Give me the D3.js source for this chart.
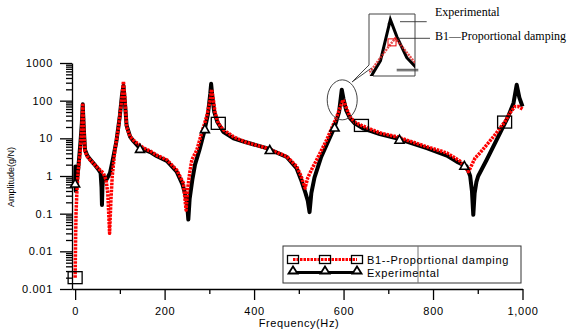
<!DOCTYPE html>
<html>
<head>
<meta charset="utf-8">
<script src="https://cdn.jsdelivr.net/npm/d3@7"></script>
<style>
  body { margin: 0; background: #fff; }
  svg { display: block; }
  text { font-family: "Liberation Sans", Arial, sans-serif; }
</style>
</head>
<body>
<svg id="chart" width="576" height="332"></svg>
<script>
// frequency (Hz), amplitude (g/N)
const experimental = [
  [0, 0.65], [0.6, 1.8], [1.3, 0.4], [3, 0.6], [6, 1.2], [9, 3], [12, 8], [15, 25], [17, 80],
  [19, 22], [22, 5], [27, 3.5], [33, 2.8], [42, 2.1], [52, 1.5], [57, 1.2], [59, 0.5], [60, 0.17],
  [61, 0.5], [63, 1.0], [70, 0.8], [78, 1.2], [85, 3], [92, 8], [100, 40], [105, 150], [108, 250],
  [111, 100], [115, 22], [123, 11], [130, 8.5], [145, 5.4], [153, 5.1], [168, 4.3], [182, 3.4],
  [205, 2.5], [227, 1.3], [240, 0.6], [247, 0.3], [250, 0.2], [253, 0.07], [256, 0.25], [262, 0.8],
  [268, 2.0], [278, 5], [288, 14], [297, 45], [302, 150], [304, 280], [307, 120], [311, 50],
  [318, 27], [331, 15], [354, 10], [380, 8], [428, 5.5], [473, 3.2], [495, 1.6], [505, 0.8],
  [515, 0.35], [520, 0.22], [524, 0.11], [528, 0.35], [535, 0.9], [550, 3.2], [565, 8], [580, 20],
  [590, 50], [596, 195], [600, 110], [606, 55], [614, 35], [625, 25], [645, 18], [681, 13],
  [719, 10], [786, 5.5], [831, 3.5], [853, 2.4], [875, 1.8], [883, 1.0], [887, 0.4], [890, 0.093],
  [893, 0.35], [897, 0.7], [901, 1.0], [920, 2.7], [950, 14], [968, 38], [980, 87], [987, 265],
  [993, 120], [1000, 70]
];

const proportional = [
  [0, 0.002], [1, 0.02], [2, 0.1], [4, 0.4], [7, 1.4], [11, 4], [15, 20], [17, 85], [20, 14],
  [22, 4.5], [27, 3.3], [33, 2.7], [42, 2.1], [52, 1.6], [63, 1.19], [69, 0.8], [73, 0.35],
  [77, 0.03], [80, 0.23], [83, 1.0], [89, 4.9], [97, 20], [104, 105], [108, 324], [112, 87],
  [115, 20], [123, 11], [130, 9], [153, 5.5], [168, 4.6], [182, 3.6], [205, 2.7], [227, 1.45],
  [242, 0.65], [248, 0.125], [252, 0.5], [256, 1.2], [261, 2.7], [272, 4.9], [283, 14], [294, 38],
  [302, 105], [305, 200], [309, 105], [313, 47], [320, 25], [331, 17], [354, 11], [380, 8],
  [428, 5.5], [473, 3.3], [495, 1.8], [505, 1.0], [514, 0.48], [520, 0.9], [530, 1.6], [540, 2.7],
  [562, 9], [585, 38], [595, 80], [599, 105], [605, 70], [614, 38], [625, 27], [640, 22],
  [681, 14], [719, 11], [786, 6], [831, 4.1], [860, 2.5], [879, 1.3], [883, 1.6], [894, 3.0],
  [905, 4.1], [935, 11], [961, 28], [972, 47], [983, 70], [991, 70], [1000, 60]
];

const squareFreqs = [0, 320, 640, 960];
const triangleFreqs = [0, 145, 290, 435, 580, 725, 870];

const xTicks = [0, 200, 400, 600, 800, 1000];
const xMinorTicks = [100, 300, 500, 700, 900];
const yTicks = [0.001, 0.01, 0.1, 1, 10, 100, 1000];
const yTickLabels = ["0.001", "0.01", "0.1", "1", "10", "100", "1000"];

const legendLabels = ["B1--Proportional damping", "Experimental"];
const insetLabels = ["Experimental", "B1\u2014Proportional damping"];

const svg = d3.select("#chart");

const x = d3.scaleLinear().domain([-7, 1000]).range([72, 522.5]);
const y = d3.scaleLog().domain([0.001, 1000]).range([289, 63]);

// log-space interpolation so markers sit on their curve
function ampAt(series, f) {
  for (let i = 0; i < series.length - 1; i++) {
    const a = series[i], b = series[i + 1];
    if (f >= a[0] && f <= b[0]) {
      const t = (f - a[0]) / (b[0] - a[0]);
      return Math.pow(10, Math.log10(a[1]) + t * (Math.log10(b[1]) - Math.log10(a[1])));
    }
  }
  return series[series.length - 1][1];
}

function triPath(w, h) {
  return `M0,${-h / 2}L${w / 2},${h / 2}L${-w / 2},${h / 2}Z`;
}

// axes
const xAxis = svg.append("g").attr("transform", "translate(0,289)")
  .call(d3.axisBottom(x).tickValues(xTicks).tickSize(11).tickSizeOuter(0).tickPadding(7));
svg.append("g").attr("transform", "translate(0,289)")
  .call(d3.axisBottom(x).tickValues(xMinorTicks).tickSize(5).tickSizeOuter(0).tickFormat(""))
  .select(".domain").remove();

const minorY = [];
yTicks.slice(0, -1).forEach(d => { for (let k = 2; k <= 9; k++) minorY.push(d * k); });

const yAxis = svg.append("g").attr("transform", "translate(72,0)")
  .call(d3.axisLeft(y).tickValues(yTicks).tickSize(12).tickSizeOuter(0).tickPadding(7)
    .tickFormat((d, i) => yTickLabels[i]));
svg.append("g").attr("transform", "translate(72,0)")
  .call(d3.axisLeft(y).tickValues(minorY).tickSize(6).tickSizeOuter(0).tickFormat(""))
  .select(".domain").remove();

svg.selectAll(".domain, .tick line").attr("stroke", "#000").attr("stroke-width", 1.3);
svg.selectAll(".tick text").attr("font-size", 11).attr("letter-spacing", 0.7)
  .attr("fill", "#000").style("font-family", "'Liberation Sans', Arial, sans-serif");

svg.append("text").attr("x", 299).attr("y", 327).attr("text-anchor", "middle")
  .attr("font-size", 11).attr("letter-spacing", 0.6).text("Frequency(Hz)");
svg.append("text").attr("transform", "translate(14,177) rotate(-90)")
  .attr("text-anchor", "middle").attr("font-size", 9).text("Amplitude(g/N)");

// curves
const line = d3.line().x(d => x(d[0])).y(d => y(d[1]));

svg.append("path").datum(experimental).attr("d", line)
  .attr("fill", "none").attr("stroke", "#000").attr("stroke-width", 4)
  .attr("stroke-linejoin", "round");
svg.append("path").datum(proportional).attr("d", line)
  .attr("fill", "none").attr("stroke", "#ff0000").attr("stroke-width", 3.5)
  .attr("stroke-dasharray", "2.5,1").attr("stroke-linejoin", "round");

svg.append("g").selectAll("path").data(triangleFreqs).join("path")
  .attr("transform", f => `translate(${x(f)},${y(ampAt(experimental, f))})`)
  .attr("d", triPath(9, 8)).attr("fill", "#fff").attr("stroke", "#000").attr("stroke-width", 1.6);

svg.append("g").selectAll("rect").data(squareFreqs).join("rect")
  .attr("x", f => x(f) - 7).attr("y", f => y(ampAt(proportional, f)) - 6)
  .attr("width", 14).attr("height", 12)
  .attr("fill", "none").attr("stroke", "#000").attr("stroke-width", 1.3);

// highlight ellipse and callout
svg.append("ellipse").attr("cx", x(597)).attr("cy", y(105)).attr("rx", 15).attr("ry", 20)
  .attr("fill", "none").attr("stroke", "#444").attr("stroke-width", 1);

svg.append("path")
  .attr("d", "M369,65L369,14L415,14L415,76L373,76L371.5,68L352,82Z")
  .attr("fill", "none").attr("stroke", "#444").attr("stroke-width", 1);

// inset: zoomed view of the peak near 600 Hz
const xi = d3.scaleLinear().domain([583, 611]).range([369, 415]);
const yi = d3.scaleLog().domain([30, 220]).range([76, 16]);
const lineInset = d3.line().x(d => xi(d[0])).y(d => yi(d[1]));

svg.append("clipPath").attr("id", "insetClip")
  .append("rect").attr("x", 369).attr("y", 14).attr("width", 46).attr("height", 62);
const inset = svg.append("g").attr("clip-path", "url(#insetClip)");
inset.append("path").datum(experimental).attr("d", lineInset)
  .attr("fill", "none").attr("stroke", "#000").attr("stroke-width", 3);
inset.append("path").datum(proportional).attr("d", lineInset)
  .attr("fill", "none").attr("stroke", "#e02020").attr("stroke-width", 2.5)
  .attr("stroke-dasharray", "2,1").attr("opacity", 0.8);
inset.append("path").attr("transform", `translate(${xi(596)},${yi(195) + 2})`)
  .attr("d", triPath(6, 5)).attr("fill", "#000");
inset.append("rect").attr("x", xi(597) - 4).attr("y", yi(ampAt(proportional, 597)) - 3.5)
  .attr("width", 8).attr("height", 7).attr("fill", "none").attr("stroke", "#e00").attr("stroke-width", 1);

[[400, 426.7, 21.7], [398.3, 430, 38.3], [396.7, 418.3, 69.3], [396.7, 418.3, 70.8]].forEach(s => {
  svg.append("line").attr("x1", s[0]).attr("x2", s[1]).attr("y1", s[2]).attr("y2", s[2])
    .attr("stroke", "#333").attr("stroke-width", 0.9);
});
svg.selectAll(".insetLabel").data(insetLabels).join("text").attr("class", "insetLabel")
  .attr("x", 435).attr("y", (d, i) => i === 0 ? 16 : 40)
  .style("font-family", "'Liberation Serif', 'Times New Roman', serif")
  .attr("font-size", 12).text(d => d);

// legend
const lg = svg.append("g");
lg.append("rect").attr("x", 283).attr("y", 246).attr("width", 238).attr("height", 37)
  .attr("fill", "#fff").attr("stroke", "#333").attr("stroke-width", 1);
lg.append("line").attr("x1", 418).attr("x2", 418).attr("y1", 246).attr("y2", 283)
  .attr("stroke", "#777").attr("stroke-width", 1);

const legendX = [293, 325, 357];
lg.append("line").attr("x1", 293).attr("x2", 357).attr("y1", 259.5).attr("y2", 259.5)
  .attr("stroke", "#ff0000").attr("stroke-width", 3).attr("stroke-dasharray", "2.5,1");
lg.selectAll(".lsq").data(legendX).join("rect").attr("class", "lsq")
  .attr("x", d => d - 5.5).attr("y", 255.5).attr("width", 11).attr("height", 8)
  .attr("fill", "none").attr("stroke", "#000").attr("stroke-width", 1.3);
lg.append("line").attr("x1", 293).attr("x2", 357).attr("y1", 272.5).attr("y2", 272.5)
  .attr("stroke", "#000").attr("stroke-width", 3);
lg.selectAll(".ltri").data(legendX).join("path").attr("class", "ltri")
  .attr("transform", d => `translate(${d},270)`)
  .attr("d", triPath(9, 7)).attr("fill", "#fff").attr("stroke", "#000").attr("stroke-width", 1.8);
lg.selectAll(".ltxt").data(legendLabels).join("text").attr("class", "ltxt")
  .attr("x", 367).attr("y", (d, i) => i === 0 ? 264 : 276.5)
  .attr("font-size", 11).attr("letter-spacing", 0.7).text(d => d);
</script>
</body>
</html>
